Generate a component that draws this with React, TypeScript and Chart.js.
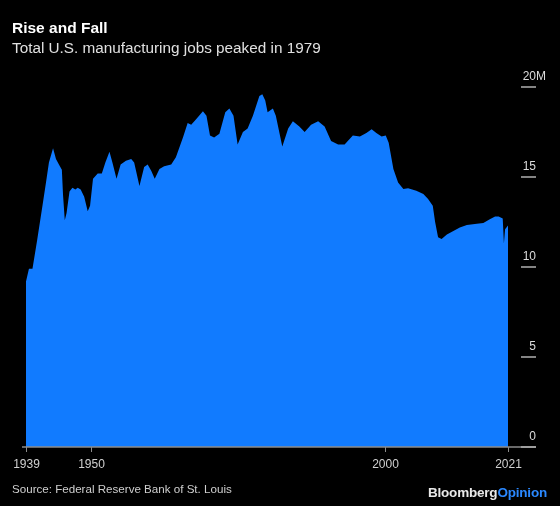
import React, { useEffect, useRef } from "react";
import { Chart, registerables } from "chart.js";

Chart.register(...registerables);

// Decimal year of each reading
const years: number[] = [
  1939.0, 1939.5, 1940.1, 1940.9, 1941.8, 1942.4, 1942.9, 1943.6, 1944.1, 1944.6,
  1945.1, 1945.3, 1945.6, 1945.9, 1946.4, 1946.9, 1947.4, 1947.8, 1948.3, 1948.9,
  1949.5, 1949.9, 1950.4, 1951.2, 1951.9, 1952.5, 1953.2, 1953.7, 1954.4, 1955.1,
  1956.0, 1956.9, 1957.4, 1958.3, 1959.1, 1959.7, 1960.3, 1960.9, 1961.7, 1962.5,
  1963.7, 1964.5, 1965.7, 1966.5, 1967.1, 1967.9, 1969.1, 1969.7, 1970.3, 1971.0,
  1971.9, 1972.9, 1973.6, 1974.3, 1975.0, 1975.9, 1976.7, 1977.6, 1978.7, 1979.2,
  1979.7, 1980.1, 1981.0, 1981.5, 1982.6, 1983.6, 1984.4, 1985.5, 1986.4, 1987.5,
  1988.7, 1989.8, 1990.9, 1992.1, 1993.2, 1994.6, 1995.8, 1996.9, 1997.8, 1998.6,
  1999.5, 2000.2, 2000.7, 2001.5, 2002.3, 2003.2, 2004.0, 2005.4, 2006.6, 2007.4,
  2008.2, 2008.6, 2009.1, 2009.7, 2010.6, 2011.7, 2012.8, 2014.0, 2015.7, 2016.8,
  2017.9, 2018.8, 2019.4, 2020.1, 2020.3, 2020.5, 2021.0,
];

// Total U.S. manufacturing jobs, millions
const jobs: number[] = [
  9.2, 9.9, 9.9, 11.5, 13.4, 14.7, 15.8, 16.6, 16.0, 15.7,
  15.4, 14.0, 12.6, 13.0, 14.2, 14.4, 14.3, 14.4, 14.3, 13.9,
  13.1, 13.4, 14.9, 15.2, 15.2, 15.8, 16.4, 15.8, 14.9, 15.7,
  15.9, 16.0, 15.8, 14.5, 15.55, 15.7, 15.35, 14.9, 15.45, 15.6,
  15.7, 16.1, 17.2, 18.0, 17.9, 18.2, 18.65, 18.4, 17.3, 17.2,
  17.4, 18.6, 18.8, 18.4, 16.8, 17.5, 17.7, 18.4, 19.5, 19.6,
  19.25, 18.6, 18.8, 18.4, 16.7, 17.7, 18.1, 17.8, 17.5, 17.9,
  18.1, 17.8, 17.0, 16.8, 16.8, 17.3, 17.25, 17.45, 17.65, 17.45,
  17.25, 17.3, 16.9, 15.45, 14.7, 14.33, 14.37, 14.24, 14.05, 13.78,
  13.4, 12.5, 11.65, 11.55, 11.8, 12.0, 12.2, 12.33, 12.4, 12.45,
  12.65, 12.8, 12.8, 12.7, 11.3, 12.1, 12.3,
];

const xTickYears: number[] = [1939, 1950, 2000, 2021];
const yTickValues: number[] = [0, 5, 10, 15, 20];
const yTickLabels: string[] = ["0", "5", "10", "15", "20"];
const yUnit = "M";

const BLUE = "#117bff";
const FONT = "'Liberation Sans', Arial, sans-serif";

const axesPlugin = {
  id: "bbgAxes",
  afterDatasetsDraw(chart: any) {
    const { ctx, chartArea, scales } = chart;
    const xs = scales.x;
    const ys = scales.y;
    const base = ys.getPixelForValue(0);
    ctx.save();
    // baseline
    ctx.strokeStyle = "#8c8c8c";
    ctx.lineWidth = 1.5;
    ctx.beginPath();
    ctx.moveTo(chartArea.left - 4, base);
    ctx.lineTo(chartArea.right, base);
    ctx.stroke();
    // x ticks
    ctx.fillStyle = "#d0d0d0";
    ctx.font = `12px ${FONT}`;
    ctx.textAlign = "center";
    ctx.textBaseline = "middle";
    xTickYears.forEach((yr) => {
      const px = Math.round(xs.getPixelForValue(yr)) + 0.5;
      ctx.beginPath();
      ctx.lineWidth = 1;
      ctx.moveTo(px, base);
      ctx.lineTo(px, base + 5);
      ctx.stroke();
      ctx.fillText(String(yr), px, base + 18);
    });
    // y ticks on right
    yTickValues.forEach((v, i) => {
      const py = ys.getPixelForValue(v);
      ctx.strokeStyle = "#b0b0b0";
      ctx.lineWidth = 1.5;
      ctx.beginPath();
      ctx.moveTo(chartArea.right - 15, py);
      ctx.lineTo(chartArea.right, py);
      ctx.stroke();
      ctx.fillStyle = "#dcdcdc";
      ctx.font = `12px ${FONT}`;
      ctx.textAlign = "right";
      ctx.textBaseline = "alphabetic";
      ctx.fillText(yTickLabels[i], chartArea.right, py - 7);
      if (i === yTickValues.length - 1) {
        ctx.textAlign = "left";
        ctx.fillText(yUnit, chartArea.right, py - 7);
      }
    });
    ctx.restore();
  },
};

export default function App() {
  const canvasRef = useRef<HTMLCanvasElement | null>(null);

  useEffect(() => {
    document.body.style.margin = "0";
    document.body.style.background = "#000";
    const canvas = canvasRef.current;
    if (!canvas) return;
    const chart = new Chart(canvas, {
      type: "line",
      data: {
        datasets: [
          {
            data: years.map((y, i) => ({ x: y, y: jobs[i] })),
            fill: "origin",
            backgroundColor: BLUE,
            borderColor: BLUE,
            borderWidth: 0,
            pointRadius: 0,
            tension: 0,
          },
        ],
      },
      options: {
        animation: false,
        responsive: false,
        maintainAspectRatio: false,
        layout: { padding: { left: 26, right: 24, top: 87, bottom: 59 } },
        plugins: {
          legend: { display: false },
          tooltip: { enabled: false },
          title: { display: false },
        },
        scales: {
          x: { type: "linear", min: 1939, max: 2025.76, display: false },
          y: { type: "linear", min: 0, max: 20, display: false },
        },
      },
      plugins: [axesPlugin],
    });
    return () => chart.destroy();
  }, []);

  return (
    <div
      style={{
        position: "relative",
        width: 560,
        height: 506,
        background: "#000",
        overflow: "hidden",
        fontFamily: FONT,
      }}
    >
      <canvas
        ref={canvasRef}
        width={560}
        height={506}
        style={{ position: "absolute", left: 0, top: 0, width: 560, height: 506 }}
      />
      <div
        style={{
          position: "absolute",
          left: 12,
          top: 19,
          color: "#fff",
          fontWeight: 700,
          fontSize: 15.5,
          lineHeight: "18px",
        }}
      >
        Rise and Fall
      </div>
      <div
        style={{
          position: "absolute",
          left: 12,
          top: 38,
          color: "#e0e0e0",
          fontSize: 15.3,
          lineHeight: "20px",
        }}
      >
        Total U.S. manufacturing jobs peaked in 1979
      </div>
      <div
        style={{
          position: "absolute",
          left: 12,
          top: 481,
          color: "#cfcfcf",
          fontSize: 11.6,
          lineHeight: "16px",
        }}
      >
        Source: Federal Reserve Bank of St. Louis
      </div>
      <div
        style={{
          position: "absolute",
          right: 13,
          top: 485,
          fontSize: 13.5,
          fontWeight: 700,
          lineHeight: "16px",
          letterSpacing: -0.2,
        }}
      >
        <span style={{ color: "#e8e8e8" }}>Bloomberg</span>
        <span style={{ color: "#2a88ff" }}>Opinion</span>
      </div>
    </div>
  );
}
